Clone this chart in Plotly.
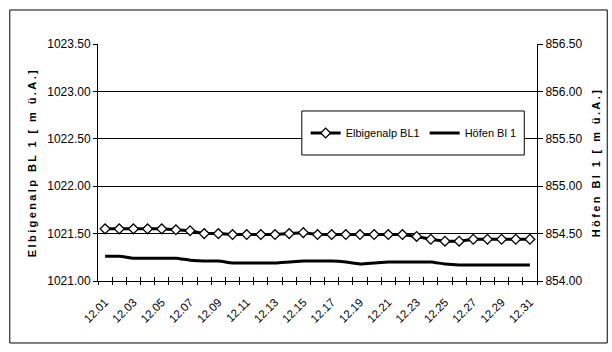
import plotly.graph_objects as go

dates = ["12.01", "12.02", "12.03", "12.04", "12.05", "12.06", "12.07", "12.08",
         "12.09", "12.10", "12.11", "12.12", "12.13", "12.14", "12.15", "12.16",
         "12.17", "12.18", "12.19", "12.20", "12.21", "12.22", "12.23", "12.24",
         "12.25", "12.26", "12.27", "12.28", "12.29", "12.30", "12.31"]

elbigenalp = [1021.55, 1021.55, 1021.55, 1021.55, 1021.55, 1021.54, 1021.53, 1021.50,
              1021.50, 1021.49, 1021.49, 1021.49, 1021.49, 1021.50, 1021.51, 1021.49,
              1021.49, 1021.49, 1021.49, 1021.49, 1021.49, 1021.49, 1021.47, 1021.44,
              1021.42, 1021.42, 1021.44, 1021.44, 1021.44, 1021.44, 1021.44]

hoefen = [854.26, 854.26, 854.24, 854.24, 854.24, 854.24, 854.22, 854.21,
          854.21, 854.19, 854.19, 854.19, 854.19, 854.20, 854.21, 854.21,
          854.21, 854.20, 854.18, 854.19, 854.20, 854.20, 854.20, 854.20,
          854.18, 854.17, 854.17, 854.17, 854.17, 854.17, 854.17]

# every second date is labelled
x_tick_text = [d if i % 2 == 0 else "" for i, d in enumerate(dates)]

left_title = "Elbigenalp BL 1 [ m ü.A.]"
right_title = "Höfen Bl 1 [ m ü.A.]"

FONT = "Liberation Sans, Arial, sans-serif"

fig = go.Figure()
fig.add_trace(go.Scatter(
    x=dates, y=elbigenalp, name="Elbigenalp BL1", mode="lines+markers",
    line=dict(color="black", width=3),
    marker=dict(symbol="diamond", size=7.5, color="white",
                line=dict(color="black", width=1.3)),
    xaxis="x", yaxis="y"))
fig.add_trace(go.Scatter(
    x=dates, y=hoefen, name="Höfen Bl 1", mode="lines",
    line=dict(color="black", width=3, shape="spline", smoothing=0.6),
    xaxis="x2", yaxis="y2"))

fig.update_layout(
    width=612, height=352,
    margin=dict(l=98, r=66, t=44, b=71),
    paper_bgcolor="white", plot_bgcolor="white",
    font=dict(family=FONT, size=12, color="black"),
    showlegend=True,
    legend=dict(orientation="h", x=0.473, y=0.6245, xanchor="left", yanchor="middle",
                bgcolor="rgba(0,0,0,0)", borderwidth=0,
                font=dict(family=FONT, size=11, color="black")),
    xaxis=dict(type="category", range=[-0.5, 30.5],
               tickmode="array", tickvals=dates, ticktext=x_tick_text,
               tickson="boundaries", ticks="outside", ticklen=3,
               tickcolor="black", tickwidth=1,
               tickangle=-45, ticklabelstandoff=9,
               showgrid=False, zeroline=False,
               showline=True, linecolor="black", linewidth=1,
               tickfont=dict(family=FONT, size=11.5, color="black")),
    xaxis2=dict(type="category", overlaying="x", anchor="y", side="bottom",
                range=[-0.5, 30.5], tickmode="array", tickvals=dates,
                tickson="boundaries", ticks="inside", ticklen=4,
                tickcolor="black", tickwidth=1, showticklabels=False,
                showgrid=False, showline=False, zeroline=False),
    yaxis=dict(range=[1021, 1023.5], tickmode="linear", tick0=1021, dtick=0.5,
               tickformat=".2f", showgrid=True, gridcolor="black", gridwidth=1,
               ticks="outside", ticklen=4, tickcolor="black",
               showline=True, linecolor="black", linewidth=1, zeroline=False,
               tickfont=dict(family=FONT, size=12, color="black"),
               title=dict(text=left_title, standoff=8,
                          font=dict(family=FONT, size=11, weight="bold", color="black"))),
    yaxis2=dict(overlaying="y", side="right", anchor="x",
                range=[854, 856.5], tickmode="linear", tick0=854, dtick=0.5,
                tickformat=".2f", showgrid=False,
                ticks="outside", ticklen=5, tickcolor="black",
                showline=True, linecolor="black", linewidth=1, zeroline=False,
                tickfont=dict(family=FONT, size=12, color="black"),
                title=dict(text=right_title, standoff=10,
                           font=dict(family=FONT, size=11, weight="bold", color="black"))),
    shapes=[
        # outer chart frame
        dict(type="rect", xref="paper", yref="paper",
             x0=-0.2009, x1=1.16, y0=-0.2616, y1=1.1435,
             line=dict(color="black", width=1), fillcolor="rgba(0,0,0,0)",
             layer="below"),
        # legend frame
        dict(type="rect", xref="paper", yref="paper",
             x0=0.4643, x1=0.971, y0=0.5316, y1=0.7173,
             line=dict(color="black", width=1), fillcolor="white",
             layer="above"),
    ],
)

post = ("document.querySelectorAll('.g-ytitle text, .g-y2title text')"
        ".forEach(function(t){t.style.letterSpacing='2.4px';});")

fig.write_html("out.html", post_script=post)
